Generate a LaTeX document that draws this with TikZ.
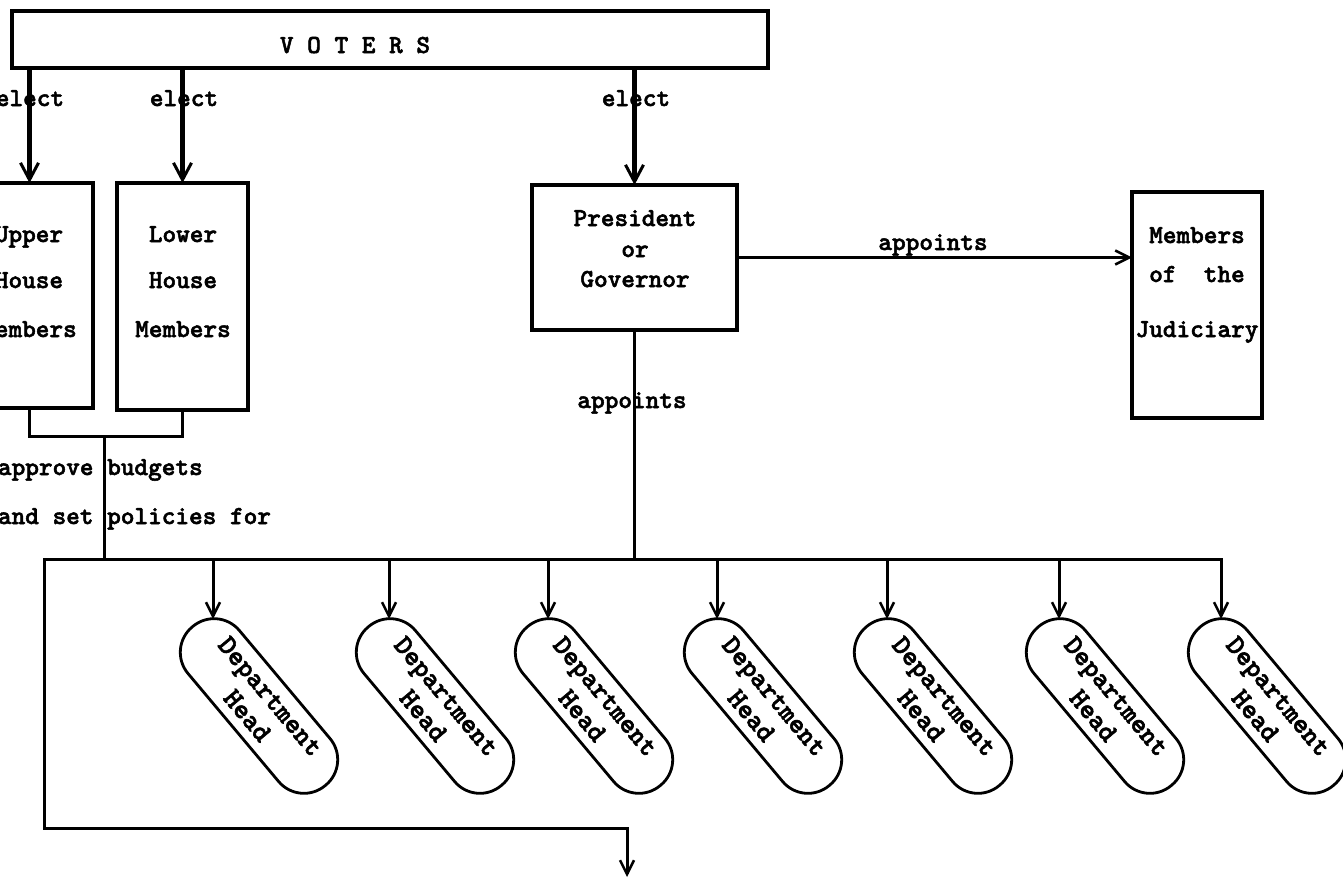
\documentclass[tikz,border=0pt]{standalone}
\usepackage{fontspec}
\newfontfamily\twfont{lmmonolt10-bold.otf}[FakeBold=2]
\usetikzlibrary{arrows.meta}
\begin{document}
\begin{tikzpicture}[x=1pt,y=-1pt,
  every node/.style={inner sep=0pt, outer sep=0pt},
  txt/.style={font={\twfont\fontsize{26}{30}\selectfont}, anchor=base},
  box/.style={draw, line width=3.5pt},
  conn/.style={line width=3pt, line cap=rect},
  arr/.style={line width=3pt, line cap=rect, -{Straight Barb[length=14pt,width=14pt,line width=2.5pt]}},
  electarr/.style={line width=5pt, -{Straight Barb[length=17pt,width=18pt,line width=3pt]}},
  dept/.style={draw, line width=2.8pt, rounded corners=33pt, minimum width=207pt, minimum height=67pt,
    rotate=-50, align=center, font={\twfont\fontsize{28}{30}\selectfont}}
]
\useasboundingbox (0,0) rectangle (1343,878);
\clip (0,0) rectangle (1343,878);

% boxes
\node[box, minimum width=756pt, minimum height=57pt] (voters) at (390,39.5) {};
\node[box, minimum width=127pt, minimum height=225pt] (upper) at (29.5,295.5) {};
\node[box, minimum width=131pt, minimum height=227pt] (lower) at (182.5,296.5) {};
\node[box, minimum width=205pt, minimum height=145pt] (pres) at (634.5,257.5) {};
\node[box, minimum width=130pt, minimum height=226pt] (jud) at (1197,305) {};

% box texts
\node[txt] (tvoters) at (355,53) {V O T E R S};
\node[txt] (tu1) at (29,242) {Upper};
\node[txt] (tu2) at (29,288) {House};
\node[txt] (tu3) at (29,337) {Members};
\node[txt] (tl1) at (183,242) {Lower};
\node[txt] (tl2) at (183,288) {House};
\node[txt] (tl3) at (183,337) {Members};
\node[txt] (tp1) at (635,226) {President};
\node[txt] (tp2) at (635,257) {or};
\node[txt] (tp3) at (635,287) {Governor};
\node[txt] (tj1) at (1197,243) {Members};
\node[txt] (tj2) at (1197,282) {of\ \ the};
\node[txt] (tj3) at (1197,337) {Judiciary};

% elect arrows
\draw[electarr] (voters.south -| upper.north) -- (upper.north);
\draw[electarr] (voters.south -| lower.north) -- (lower.north);
\draw[electarr] (voters.south -| pres.north) -- (pres.north);
\node[txt] (e1) at (30,106) {elect};
\node[txt] (e2) at (184,106) {elect};
\node[txt] (e3) at (636,106) {elect};

% appoints judiciary
\draw[arr] (pres.east) -- (pres.east -| jud.west);
\node[txt] (ap1) at (933,250) {appoints};

% coordinates
\coordinate (brk) at (104,436);
\coordinate (busL) at (44,559);
\coordinate (busR) at (1221,559);
\coordinate (out) at (627,877);

% bracket from legislature
\draw[conn, line cap=butt] (upper.south) |- (brk) -| (lower.south);
\draw[conn] (brk) -- (brk |- busL);
\node[txt, anchor=base west] (ab1) at (-2,475) {approve budgets};
\node[txt, anchor=base west] (ab2) at (-2,524) {and set policies for};

% president down
\draw[conn] (pres.south) -- (pres.south |- busL);
\node[txt] (ap2) at (632,408) {appoints};

% department heads
\foreach \i/\x in {1/213,2/389,3/548,4/717,5/887,6/1059,7/1221}{
  \node[dept] (d\i) at (\x+46,706) {Department\\Head};
  \coordinate (t\i) at (\x,619);
}
\draw[arr] (busL) -- (busR) -- (t7);
\foreach \i in {1,...,6}{
  \draw[arr] (t\i |- busL) -- (t\i);
}

% bottom loop
\draw[arr] (busL) -- (busL |- 0,828) -| (out);
\end{tikzpicture}
\end{document}
